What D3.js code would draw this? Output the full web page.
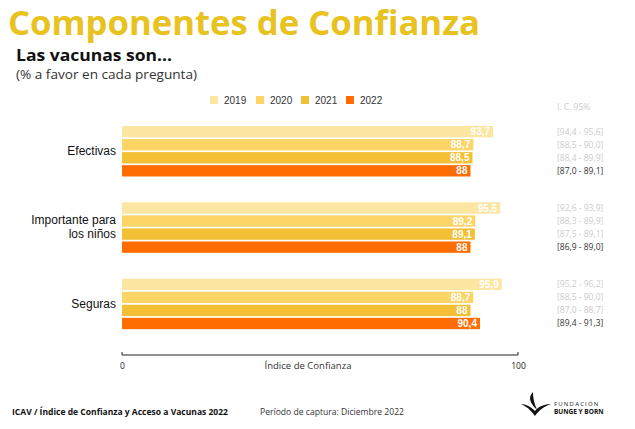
<!DOCTYPE html>
<html><head><meta charset="utf-8">
<script src="https://cdn.jsdelivr.net/npm/d3@7"></script>
<style>body{margin:0;background:#fff}svg{display:block}</style>
</head><body>
<svg id="c" width="635" height="429"></svg>
<script>
const categories = ["Efectivas", "Importante para|los niños", "Seguras"];
const years = ["2019", "2020", "2021", "2022"];
const v2019 = [93.7, 95.5, 95.9];
const v2020 = [88.7, 89.2, 88.7];
const v2021 = [88.5, 89.1, 88];
const v2022 = [88, 88, 90.4];
const ci2019 = ["[94,4 - 95,6]", "[92,6 - 93,9]", "[95,2 - 96,2]"];
const ci2020 = ["[88,5 - 90,0]", "[88,3 - 89,9]", "[88,5 - 90,0]"];
const ci2021 = ["[88,4 - 89,9]", "[87,5 - 89,1]", "[87,0 - 88,7]"];
const ci2022 = ["[87,0 - 89,1]", "[86,9 - 89,0]", "[89,4 - 91,3]"];
const xTicks = [0, 100];

const series = [v2019, v2020, v2021, v2022];
const cis = [ci2019, ci2020, ci2021, ci2022];
const colors = ["#FDE5A2", "#FDD566", "#F2BF35", "#FF6D00"];

const svg = d3.select("#c");
const x = d3.scaleLinear().domain([0, 100]).range([122, 518]);
const yG = d3.scaleBand().domain(categories).range([126, 355]).paddingInner(0).paddingOuter(0);
const yB = d3.scaleBand().domain(years).range([0, 50.5]).paddingInner(0.13);

// Title
svg.append("text").attr("x", 8).attr("y", 35).text("Componentes de Confianza")
  .attr("font-family", "Open Sans, sans-serif").attr("font-weight", 700).attr("font-size", 34)
  .attr("fill", "#E8C21E").attr("textLength", 472).attr("lengthAdjust", "spacingAndGlyphs");
svg.append("text").attr("x", 16).attr("y", 61).text("Las vacunas son...")
  .attr("font-family", "Open Sans, sans-serif").attr("font-weight", 700).attr("font-size", 16)
  .attr("fill", "#111").attr("textLength", 156).attr("lengthAdjust", "spacingAndGlyphs");
svg.append("text").attr("x", 16).attr("y", 79).text("(% a favor en cada pregunta)")
  .attr("font-family", "Open Sans, sans-serif").attr("font-size", 12.5).attr("fill", "#333")
  .attr("textLength", 181).attr("lengthAdjust", "spacingAndGlyphs");

// Legend
const legX = [210, 256, 301, 346];
const leg = svg.append("g");
years.forEach((yr, i) => {
  leg.append("rect").attr("x", legX[i]).attr("y", 96).attr("width", 8).attr("height", 8).attr("fill", colors[i]);
  leg.append("text").attr("x", legX[i] + 14).attr("y", 104).text(yr)
    .attr("font-family", "Liberation Sans, Arial, sans-serif").attr("font-size", 10).attr("fill", "#333");
});

// CI header
svg.append("text").attr("x", 557).attr("y", 110).text("I. C. 95%")
  .attr("font-family", "Open Sans, sans-serif").attr("font-size", 8.5).attr("fill", "#cccccc");

// Bars
categories.forEach((cat, ci) => {
  const g = svg.append("g").attr("transform", `translate(0,${yG(cat)})`);
  years.forEach((yr, si) => {
    const v = series[si][ci];
    g.append("rect").attr("x", x(0)).attr("y", yB(yr)).attr("width", x(v) - x(0)).attr("height", yB.bandwidth())
      .attr("fill", colors[si]);
    g.append("text").attr("x", x(v) - 3).attr("y", yB(yr) + yB.bandwidth() / 2 + 3.6)
      .attr("text-anchor", "end").text(String(v).replace(".", ","))
      .attr("font-family", "Liberation Sans, Arial, sans-serif").attr("font-weight", 700).attr("font-size", 10)
      .attr("fill", "#fff");
    g.append("text").attr("x", 557).attr("y", yB(yr) + yB.bandwidth() / 2 + 3)
      .text(cis[si][ci])
      .attr("font-family", "Open Sans, sans-serif").attr("font-size", 8.5)
      .attr("fill", si === 3 ? "#333" : "#cccccc");
  });
  const lines = cat.split("|");
  lines.forEach((ln, li) => {
    g.append("text").attr("x", 116).attr("y", 25 + 4 + (li - (lines.length - 1) / 2) * 14)
      .attr("text-anchor", "end").text(ln)
      .attr("font-family", "Liberation Sans, Arial, sans-serif").attr("font-size", 12).attr("fill", "#111");
  });
});

// Axis
const axis = svg.append("g").attr("transform", "translate(0,355)")
  .call(d3.axisBottom(x).tickValues(xTicks).tickSize(0).tickPadding(0).tickFormat(d3.format("d")));
axis.select(".domain").attr("stroke", "#222").attr("d", `M${x(0)},-3V0H${x(100)}V-3`);
axis.selectAll(".tick line").remove();
axis.selectAll(".tick text").attr("dy", 0).attr("y", 14)
  .attr("font-family", "Open Sans, sans-serif").attr("font-size", 8.5).attr("fill", "#222");
svg.append("text").attr("x", 308).attr("y", 369).attr("text-anchor", "middle").text("Índice de Confianza")
  .attr("font-family", "Open Sans, sans-serif").attr("font-size", 9.5).attr("fill", "#333")
  .attr("textLength", 87).attr("lengthAdjust", "spacingAndGlyphs");

// Footer
svg.append("text").attr("x", 12).attr("y", 415).text("ICAV / Índice de Confianza y Acceso a Vacunas 2022")
  .attr("font-family", "Open Sans, sans-serif").attr("font-weight", 700).attr("font-size", 8.5).attr("fill", "#111")
  .attr("textLength", 216).attr("lengthAdjust", "spacingAndGlyphs");
svg.append("text").attr("x", 260).attr("y", 415).text("Período de captura: Diciembre 2022")
  .attr("font-family", "Open Sans, sans-serif").attr("font-size", 8.5).attr("fill", "#333")
  .attr("textLength", 144).attr("lengthAdjust", "spacingAndGlyphs");

// Logo
const logo = svg.append("g").attr("transform", "translate(521,392)");
logo.append("path").attr("d", "M12,0 C6,6 10,12 16,18 C13,11 12,6 12,0 Z").attr("fill", "#111");
logo.append("path").attr("d", "M0,12 C5,14 10,18 14,24 C18,18 24,14 30,12 C24,12 18,14 14,19 C10,15 5,12 0,12 Z").attr("fill", "#111");
logo.append("text").attr("x", 33).attr("y", 14).text("FUNDACIÓN")
  .attr("font-family", "Open Sans, sans-serif").attr("font-size", 6).attr("letter-spacing", 1.2).attr("fill", "#222");
logo.append("text").attr("x", 33).attr("y", 22).text("BUNGE Y BORN")
  .attr("font-family", "Open Sans, sans-serif").attr("font-weight", 700).attr("font-size", 6.5).attr("fill", "#111");
</script>
</body></html>
